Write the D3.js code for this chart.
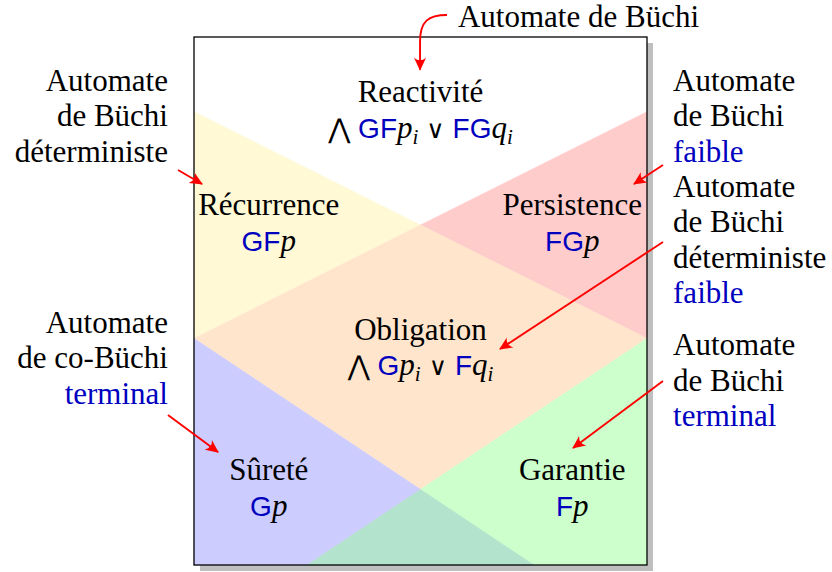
<!DOCTYPE html>
<html><head><meta charset="utf-8">
<script src="https://cdn.jsdelivr.net/npm/d3@7"></script>
<style>html,body{margin:0;padding:0;background:#fff;} svg{display:block;}</style>
</head><body>
<svg id="c" width="832" height="572"></svg>
<script>
// ---- data (diagram units, y upward, box is 4 x 4.66) ----
const boxExtent = [[0, 0], [4, 4.66]];
const regionKeys = ["recurrence", "persistence", "obligation", "surete", "garantie", "overlap"];
const regionPolygons = [
  [[0, 4], [2, 3], [0, 2]],
  [[4, 4], [2, 3], [4, 2]],
  [[0, 2], [2, 3], [4, 2], [2, 2 / 3]],
  [[0, 2], [2, 2 / 3], [1, 0], [0, 0]],
  [[4, 2], [2, 2 / 3], [3, 0], [4, 0]],
  [[2, 2 / 3], [1, 0], [3, 0]]
];
const classNames = ["Reactivité", "Récurrence", "Persistence", "Obligation", "Sûreté", "Garantie"];
const classFormulas = [
  [["big", "⋀"], ["t", " "], ["sf", "GF"], ["it", "p"], ["sub", "i"], ["op", " ∨ "], ["sf", "FG"], ["it", "q"], ["sub", "i"]],
  [["sf", "GF"], ["it", "p"]],
  [["sf", "FG"], ["it", "p"]],
  [["big", "⋀"], ["t", " "], ["sf", "G"], ["it", "p"], ["sub", "i"], ["op", " ∨ "], ["sf", "F"], ["it", "q"], ["sub", "i"]],
  [["sf", "G"], ["it", "p"]],
  [["sf", "F"], ["it", "p"]]
];
const classAnchors = [[2, 4.086], [0.66, 3.089], [3.34, 3.089], [2, 1.986], [0.66, 0.75], [3.34, 0.75]];

const automataLabels = [
  {lines: [["Automate"], ["de Büchi"], ["déterministe"]], blue: []},
  {lines: [["Automate"], ["de co-Büchi"], ["terminal"]], blue: [2]},
  {lines: [["Automate"], ["de Büchi"], ["faible"]], blue: [2]},
  {lines: [["Automate"], ["de Büchi"], ["déterministe"], ["faible"]], blue: [3]},
  {lines: [["Automate"], ["de Büchi"], ["terminal"]], blue: [2]},
  {lines: [["Automate de Büchi"]], blue: []}
];
const automataAnchors = [[-0.23, 4.184, "end"], [-0.23, 2.048, "end"], [4.23, 4.184, "start"], [4.23, 3.248, "start"], [4.23, 1.853, "start"], [2.331, 4.745, "start"]];

// arrows: [from, to]
const arrowLinks = [
  [[-0.141, 3.486], [0.071, 3.363]],
  [[-0.230, 1.324], [0.212, 0.997]],
  [[4.141, 3.530], [3.885, 3.363]],
  [[4.141, 2.851], [2.702, 1.906]],
  [[4.141, 1.624], [3.347, 1.033]]
];
const curvedArrow = {from: [2.234, 4.854], c1: [2.07, 4.854], c2: [1.996, 4.80], mid: [1.996, 4.62], to: [1.996, 4.372]};

// ---- styles ----
const regionFill = {
  recurrence: "#FFF9D6", persistence: "#FFCCCC", obligation: "#FFE5CB",
  surete: "#CCCCFF", garantie: "#CCFFCC", overlap: "#B3E3CC"
};
const SERIF = "'Liberation Serif', 'Times New Roman', serif";
const SANS = "'Liberation Sans', Arial, sans-serif";
const FS = 31;
const LINE = 35.5;
const BLUE = "#0000BF";

const svg = d3.select("#c");
const x = d3.scaleLinear().domain([0, 4]).range([194, 647]);
const y = d3.scaleLinear().domain([0, 4.66]).range([565, 37]);

// shadow + box
svg.append("rect")
  .attr("x", x(boxExtent[0][0]) + 6).attr("y", y(boxExtent[1][1]) + 6)
  .attr("width", x(boxExtent[1][0]) - x(boxExtent[0][0]))
  .attr("height", y(boxExtent[0][1]) - y(boxExtent[1][1]))
  .attr("fill", "#BFBFBF");
svg.append("rect")
  .attr("x", x(boxExtent[0][0])).attr("y", y(boxExtent[1][1]))
  .attr("width", x(boxExtent[1][0]) - x(boxExtent[0][0]))
  .attr("height", y(boxExtent[0][1]) - y(boxExtent[1][1]))
  .attr("fill", "#fff");

const line = d3.line().x(d => x(d[0])).y(d => y(d[1]));
svg.append("g").selectAll("path").data(regionPolygons).join("path")
  .attr("d", d => line(d) + "Z")
  .attr("fill", (d, i) => regionFill[regionKeys[i]])
  .attr("stroke", (d, i) => regionFill[regionKeys[i]])
  .attr("stroke-width", 0.6);

svg.append("rect")
  .attr("x", x(boxExtent[0][0])).attr("y", y(boxExtent[1][1]))
  .attr("width", x(boxExtent[1][0]) - x(boxExtent[0][0]))
  .attr("height", y(boxExtent[0][1]) - y(boxExtent[1][1]))
  .attr("fill", "none").attr("stroke", "#000").attr("stroke-width", 1.3);

// class names + formulas
const cls = svg.append("g");
classNames.forEach((name, i) => {
  const [ax, ay] = classAnchors[i];
  cls.append("text").attr("x", x(ax)).attr("y", y(ay))
    .attr("text-anchor", "middle").attr("font-family", SERIF).attr("font-size", FS)
    .attr("fill", "#000").text(name);
  const t = cls.append("text").attr("x", x(ax)).attr("y", y(ay) + LINE)
    .attr("text-anchor", "middle").attr("font-family", SERIF).attr("font-size", FS).attr("fill", "#000")
    .attr("xml:space", "preserve");
  let shifted = false;
  classFormulas[i].forEach(([kind, s]) => {
    const ts = t.append("tspan").text(s);
    let dy = 0;
    if (kind === "sub") { dy = 6; shifted = true; }
    else if (shifted) { dy = -6; shifted = false; }
    if (dy) ts.attr("dy", dy);
    if (kind === "sf") ts.attr("font-family", SANS).attr("font-size", 28).attr("fill", BLUE);
    if (kind === "it") ts.attr("font-style", "italic");
    if (kind === "sub") ts.attr("font-style", "italic").attr("font-size", 21);
    if (kind === "big") ts.attr("font-family", "'DejaVu Sans'").attr("font-size", 27);
    if (kind === "op") ts.attr("font-family", "'DejaVu Serif'").attr("font-size", 25);
  });
});

// automata labels
const lab = svg.append("g");
automataLabels.forEach((L, i) => {
  const [ax, ay, anchor] = automataAnchors[i];
  L.lines.forEach((ln, j) => {
    lab.append("text").attr("x", x(ax)).attr("y", y(ay) + j * LINE)
      .attr("text-anchor", anchor).attr("font-family", SERIF).attr("font-size", FS)
      .attr("fill", L.blue.includes(j) ? BLUE : "#000").text(ln[0]);
  });
});

// arrows
const defs = svg.append("defs");
defs.append("marker").attr("id", "ah")
  .attr("viewBox", "-14 -8 16 16").attr("refX", 0).attr("refY", 0)
  .attr("markerWidth", 16).attr("markerHeight", 16)
  .attr("markerUnits", "userSpaceOnUse").attr("orient", "auto")
  .append("path").attr("d", "M1,0 L-12,-6 Q-7,0 -12,6 Z").attr("fill", "#FF0000");

const arr = svg.append("g").attr("fill", "none").attr("stroke", "#FF0000").attr("stroke-width", 1.9);
arr.selectAll("path.s").data(arrowLinks).join("path").attr("class", "s")
  .attr("d", d => line(d)).attr("marker-end", "url(#ah)");
const p = d3.path();
p.moveTo(x(curvedArrow.from[0]), y(curvedArrow.from[1]));
p.bezierCurveTo(x(curvedArrow.c1[0]), y(curvedArrow.c1[1]), x(curvedArrow.c2[0]), y(curvedArrow.c2[1]), x(curvedArrow.mid[0]), y(curvedArrow.mid[1]));
p.lineTo(x(curvedArrow.to[0]), y(curvedArrow.to[1]));
arr.append("path").attr("d", p.toString()).attr("marker-end", "url(#ah)");
</script>
</body></html>
